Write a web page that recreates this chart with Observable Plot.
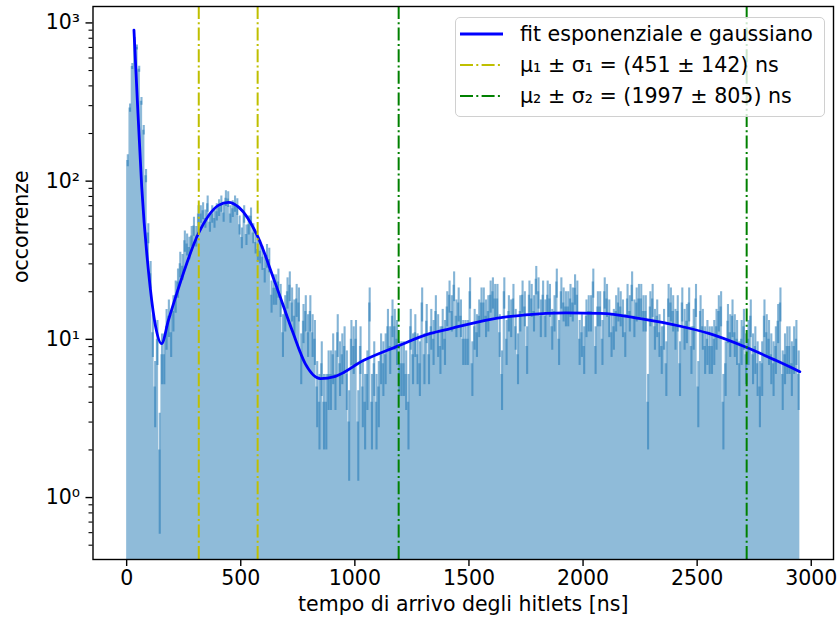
<!DOCTYPE html>
<html><head><meta charset="utf-8">
<script src="https://cdn.jsdelivr.net/npm/d3@7"></script>
<script src="https://cdn.jsdelivr.net/npm/@observablehq/plot@0.6"></script>
<style>
body{margin:0;background:#fff;}
#wrap{position:relative;width:838px;height:627px;font-family:"DejaVu Sans",sans-serif;}
.legend{position:absolute;left:455px;top:17px;width:370px;height:100px;border:1px solid #d0d0d0;border-radius:5px;background:rgba(255,255,255,0.8);box-sizing:border-box;}
.row{position:absolute;left:0;height:26px;width:100%;}
.row svg{position:absolute;left:4px;top:0;}
.row span{position:absolute;left:64px;top:0;line-height:26px;font-size:20.6px;white-space:nowrap;color:#000;}
</style></head><body><div id="wrap"></div>
<script>
// histogram: bin start, bin width (ns) and counts
const binStart = 0;
const binWidth = 10;
const counts = [
 135, 290, 530, 780, 700, 510, 320, 210, 108, 47,
 26, 11, 5, 10, 2, 8, 8, 12, 14, 11,
 15, 19, 23, 30, 29, 42, 40, 38, 45, 52,
 45, 62, 62, 65, 58, 72, 55, 62, 58, 64,
 68, 72, 63, 78, 77, 62, 67, 72, 69, 53,
 44, 62, 46, 53, 60, 47, 41, 37, 36, 33,
 28, 34, 32, 19, 21, 21, 23, 18, 11, 15,
 20, 22, 17, 14, 18, 17, 8, 13, 15, 11,
 15, 11, 10, 5, 4, 7, 4, 4, 6, 6,
 8, 6, 11, 7, 8, 9, 6, 3, 10, 9,
 10, 3, 9, 5, 4, 6, 17, 4, 7, 4,
 5, 8, 7, 8, 12, 9, 14, 12, 10, 7,
 7, 7, 6, 4, 12, 8, 11, 8, 7, 17,
 8, 13, 8, 12, 10, 15, 11, 9, 12, 10,
 16, 19, 15, 22, 14, 17, 14, 10, 10, 10,
 20, 7, 12, 11, 14, 17, 17, 14, 15, 19,
 20, 18, 18, 11, 6, 20, 10, 15, 14, 18,
 12, 8, 15, 19, 16, 9, 19, 18, 15, 24,
 20, 14, 19, 14, 19, 18, 12, 15, 23, 10,
 20, 17, 16, 16, 18, 17, 21, 19, 10, 11,
 9, 14, 15, 15, 23, 9, 16, 16, 10, 20,
 18, 14, 11, 12, 15, 17, 16, 14, 11, 18,
 15, 22, 14, 17, 18, 18, 15, 15, 4, 16,
 18, 12, 14, 11, 9, 12, 7, 18, 17, 15,
 12, 15, 7, 17, 12, 13, 17, 9, 12, 18,
 5, 15, 12, 9, 10, 9, 9, 10, 12, 15,
 16, 4, 7, 13, 11, 14, 11, 10, 7, 10,
 12, 8, 10, 14, 8, 9, 7, 5, 7, 14,
 11, 10, 8, 7, 9, 13, 17, 6, 8, 9,
 9, 7, 9, 10, 6
];
// fit curve
const fitX = [32, 44, 66, 103, 127, 153, 183, 219, 314, 402, 446, 491, 572, 652, 725, 783, 849, 915, 1039, 1185, 1331, 1419, 1572, 1748, 1923, 2077, 2252, 2427, 2551, 2712, 2844, 2950];
const fitY = [900, 393, 92, 21.4, 12, 9.4, 13.2, 19.4, 46.5, 70.3, 73.5, 68.5, 45.4, 22.5, 11.4, 7.0, 5.65, 5.84, 7.37, 9.03, 10.9, 11.7, 13.2, 14.3, 14.7, 14.6, 13.5, 12.1, 10.9, 8.94, 7.37, 6.25];
// mu +- sigma vertical lines
const lines1 = [316, 574];
const lines2 = [1192, 2717];
// axes
const xTicks = [0, 500, 1000, 1500, 2000, 2500, 3000];
const yMajor = [1, 10, 100, 1000];
const yMinor = [0.5,0.6,0.7,0.8,0.9,2,3,4,5,6,7,8,9,20,30,40,50,60,70,80,90,200,300,400,500,600,700,800,900];
const xLabel = "tempo di arrivo degli hitlets [ns]";
const yLabel = "occorrenze";
const legendLabels = ["fit esponenziale e gaussiano", "μ₁ ± σ₁ = (451 ± 142) ns", "μ₂ ± σ₂ = (1997 ± 805) ns"];

const yMin = 0.406, yMax = 1270;
const bins = counts.map((c, i) => ({x0: binStart + i * binWidth, xc: binStart + (i + 0.5) * binWidth, c}));
const step = bins.map(d => ({x: d.x0, y: d.c}));
step.push({x: binStart + counts.length * binWidth, y: counts[counts.length - 1]});
const fit = fitX.map((x, i) => ({x, y: fitY[i]}));
const sup = {"-1": "⁻¹", "0": "⁰", "1": "¹", "2": "²", "3": "³"};
const dashdot = "13,3.3,2,3.3";

const chart = Plot.plot({
  width: 838, height: 627,
  marginLeft: 92.5, marginRight: 5, marginTop: 6, marginBottom: 68,
  x: {type: "linear", domain: [-147.5, 3097.5], label: null},
  y: {type: "log", domain: [yMin, yMax], label: null},
  style: {fontFamily: '"DejaVu Sans", sans-serif', fontSize: "20.5px", background: "white", color: "black"},
  marks: [
    Plot.areaY(step, {x: "x", y1: yMin, y2: "y", curve: "step-after", fill: "#1f77b4", fillOpacity: 0.5}),
    Plot.ruleX(bins, {x: "xc", y1: d => d.c - Math.sqrt(d.c), y2: d => d.c + Math.sqrt(d.c), stroke: "#1f77b4", strokeOpacity: 0.55, strokeWidth: 2.1, clip: true}),
    Plot.line(fit, {x: "x", y: "y", stroke: "#0000ff", strokeWidth: 2.8, curve: "monotone-x"}),
    Plot.ruleX(lines1, {x: d => d, stroke: "#bfbf00", strokeWidth: 2, strokeDasharray: dashdot}),
    Plot.ruleX(lines2, {x: d => d, stroke: "#008000", strokeWidth: 2, strokeDasharray: dashdot}),
    Plot.frame({stroke: "black", strokeWidth: 1.4}),
    Plot.axisX(xTicks, {tickSize: 7, tickPadding: 4, label: null, tickFormat: d => String(d), strokeWidth: 1.4}),
    Plot.axisY(yMajor, {tickSize: 7, tickPadding: 6, label: null, tickFormat: d => "10" + sup[String(Math.round(Math.log10(d)))], strokeWidth: 1.4}),
    Plot.axisY(yMinor, {tickSize: 4, tickPadding: 0, label: null, tickFormat: () => "", strokeWidth: 1.1}),
    Plot.text([xLabel], {text: d => d, frameAnchor: "bottom", dy: 51}),
    Plot.text([yLabel], {text: d => d, frameAnchor: "left", dx: -72, rotate: -90})
  ]
});
const wrap = document.getElementById("wrap");
wrap.appendChild(chart);

// legend overlay
const legend = document.createElement("div");
legend.className = "legend";
const rowTops = [3, 34, 65];
const handles = [
  '<line x1="0" y1="13" x2="43" y2="13" stroke="#0000ff" stroke-width="2.8"/>',
  '<line x1="0" y1="13" x2="43" y2="13" stroke="#bfbf00" stroke-width="2" stroke-dasharray="' + dashdot + '"/>',
  '<line x1="0" y1="13" x2="43" y2="13" stroke="#008000" stroke-width="2" stroke-dasharray="' + dashdot + '"/>'
];
legendLabels.forEach((lab, i) => {
  const row = document.createElement("div");
  row.className = "row";
  row.style.top = rowTops[i] + "px";
  row.innerHTML = '<svg width="44" height="26">' + handles[i] + '</svg>';
  const span = document.createElement("span");
  span.textContent = lab;
  row.appendChild(span);
  legend.appendChild(row);
});
wrap.appendChild(legend);
</script></body></html>
